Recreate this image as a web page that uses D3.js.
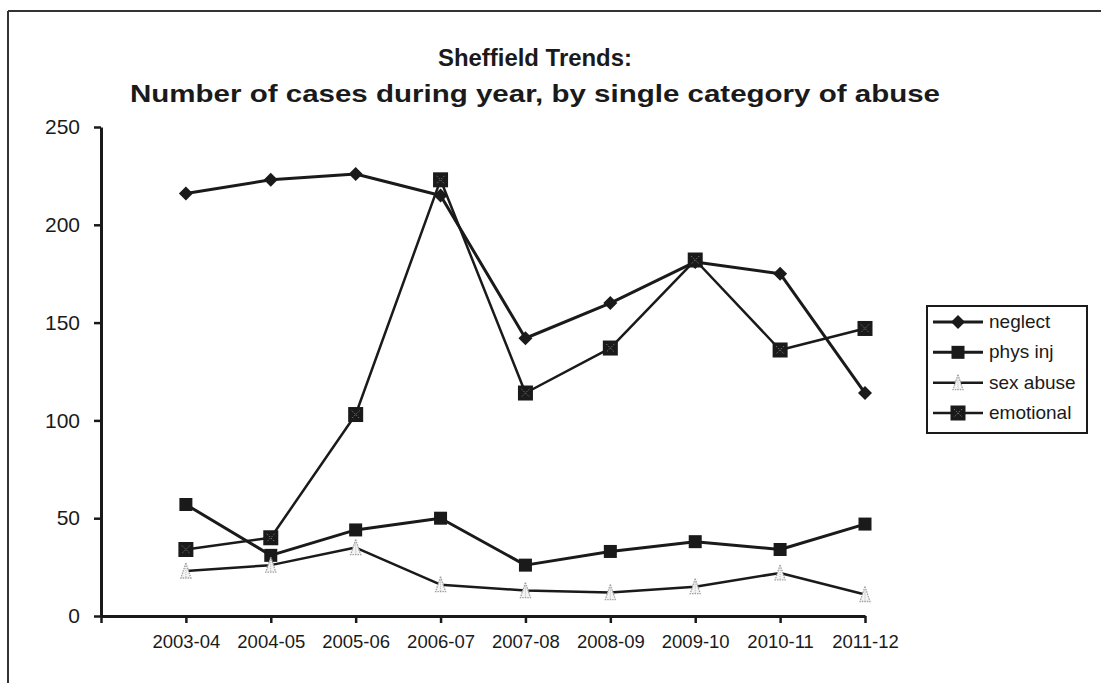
<!DOCTYPE html>
<html><head><meta charset="utf-8">
<script src="https://cdn.jsdelivr.net/npm/d3@7"></script>
<style>body{margin:0;background:#fff;}svg{display:block;font-family:Arial,"Liberation Sans",sans-serif;}</style>
</head><body>
<svg id="c" width="1101" height="683"></svg>
<script>
const categories = ["2003-04","2004-05","2005-06","2006-07","2007-08","2008-09","2009-10","2010-11","2011-12"];
const neglect   = [216,223,226,215,142,160,181,175,114];
const physInj   = [57,31,44,50,26,33,38,34,47];
const sexAbuse  = [23,26,35,16,13,12,15,22,11];
const emotional = [34,40,103,223,114,137,182,136,147];
const yTicks = [0,50,100,150,200,250];
const seriesNames = ["neglect","phys inj","sex abuse","emotional"];
const titleLines = ["Sheffield Trends:","Number of cases during year, by single category of abuse"];

const series = [
  {name:seriesNames[0], values:neglect, marker:"diamond", w:3},
  {name:seriesNames[1], values:physInj, marker:"square", w:3},
  {name:seriesNames[2], values:sexAbuse, marker:"tri", w:2.5},
  {name:seriesNames[3], values:emotional, marker:"xsquare", w:2.5}
];

const svg = d3.select("#c");
const ink = "#1a1a1a";

// frame
svg.append("line").attr("x1",8).attr("x2",1101).attr("y1",11).attr("y2",11).attr("stroke","#333").attr("stroke-width",2);
svg.append("line").attr("x1",8).attr("x2",8).attr("y1",11).attr("y2",683).attr("stroke","#333").attr("stroke-width",2);

// title
const titleLen = [194, 810];
svg.selectAll("text.title").data(titleLines).enter().append("text")
  .attr("x",535).attr("y",(d,i)=>i===0?66:102)
  .attr("text-anchor","middle").attr("font-weight","bold").attr("font-size",24)
  .attr("textLength",(d,i)=>titleLen[i]).attr("lengthAdjust","spacingAndGlyphs")
  .attr("fill",ink).text(d=>d);

const x = d3.scalePoint().domain([""].concat(categories)).range([101,865]);
const y = d3.scaleLinear().domain([0,250]).range([616,127]);

// y axis
const yAxis = svg.append("g").attr("transform","translate(101,0)")
  .call(d3.axisLeft(y).tickValues(yTicks).tickSize(7).tickSizeOuter(0));
yAxis.select(".domain").attr("stroke",ink).attr("stroke-width",3);
yAxis.selectAll(".tick line").attr("stroke",ink).attr("stroke-width",2.5);
yAxis.selectAll(".tick text").attr("font-size",21).attr("fill",ink).attr("x",-21).attr("font-family","Arial, 'Liberation Sans', sans-serif");

// x axis
const xAxis = svg.append("g").attr("transform","translate(0,616)")
  .call(d3.axisBottom(x).tickSize(7).tickSizeOuter(0));
xAxis.select(".domain").attr("stroke",ink).attr("stroke-width",3);
xAxis.selectAll(".tick line").attr("stroke",ink).attr("stroke-width",2.5);
xAxis.selectAll(".tick text").attr("font-size",18.5).attr("fill",ink).attr("y",19).attr("font-family","Arial, 'Liberation Sans', sans-serif");

function drawMarker(g, type){
  if(type==="diamond"){
    g.append("path").attr("d","M0,-7L7,0L0,7L-7,0Z").attr("fill",ink);
  } else if(type==="square"){
    g.append("rect").attr("x",-6.5).attr("y",-6.5).attr("width",13).attr("height",13).attr("fill",ink);
  } else if(type==="tri"){
    g.append("path").attr("d","M0,-8L5,7L-5,7Z").attr("fill","#f4f4f4").attr("stroke","#a0a0a0").attr("stroke-width",1.3).attr("stroke-dasharray","1.5,1");
    g.append("line").attr("x1",0).attr("x2",0).attr("y1",-5).attr("y2",7).attr("stroke","#b8b8b8").attr("stroke-width",1).attr("stroke-dasharray","1,1");
  } else {
    g.append("rect").attr("x",-7.5).attr("y",-7.5).attr("width",15).attr("height",15).attr("fill",ink);
    g.append("path").attr("d","M-4,-4L4,4M4,-4L-4,4").attr("stroke","#888").attr("stroke-width",0.8).attr("stroke-dasharray","1.5,1.5");
  }
}

const line = d3.line().x((d,i)=>x(categories[i])).y(d=>y(d));
series.forEach(s=>{
  svg.append("path").datum(s.values).attr("d",line).attr("fill","none")
    .attr("stroke",ink).attr("stroke-width",s.w).attr("stroke-linejoin","round");
});
series.forEach(s=>{
  s.values.forEach((v,i)=>{
    const g = svg.append("g").attr("transform",`translate(${x(categories[i])},${y(v)})`);
    drawMarker(g, s.marker);
  });
});

// legend
const lg = svg.append("g");
lg.append("rect").attr("x",927).attr("y",306).attr("width",160).attr("height",127)
  .attr("fill","#fff").attr("stroke",ink).attr("stroke-width",2);
const rowY = d3.scalePoint().domain(seriesNames).range([322,413]);
series.forEach(s=>{
  const ry = rowY(s.name);
  lg.append("line").attr("x1",933).attr("x2",983).attr("y1",ry).attr("y2",ry).attr("stroke",ink).attr("stroke-width",s.w);
  drawMarker(lg.append("g").attr("transform",`translate(958,${ry})`), s.marker);
  lg.append("text").attr("x",989).attr("y",ry+6).attr("font-size",19).attr("fill",ink).text(s.name);
});
</script>
</body></html>
